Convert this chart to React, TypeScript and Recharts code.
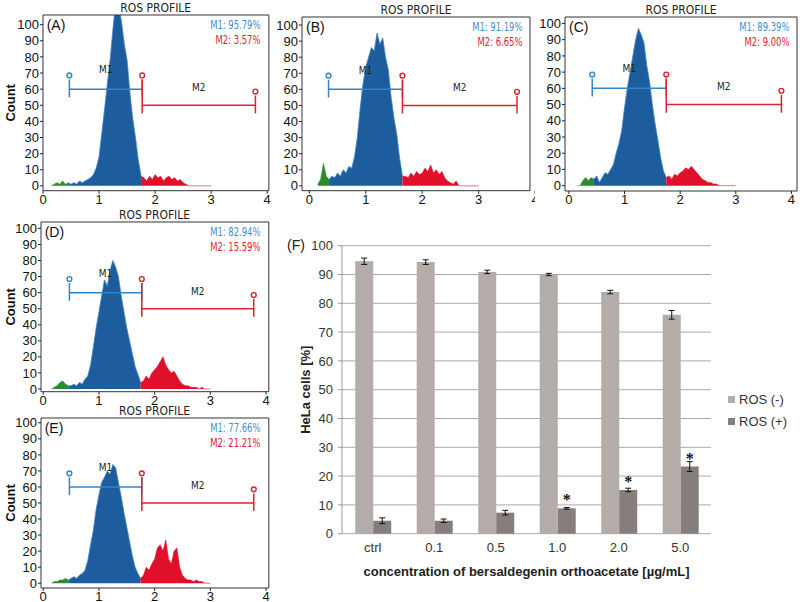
import React from "react";
import {
  ComposedChart,
  Area,
  XAxis,
  YAxis,
  ReferenceArea,
  ReferenceLine,
  ReferenceDot,
  BarChart,
  Bar,
  CartesianGrid,
  ErrorBar,
  LabelList,
  Legend,
} from "recharts";

// flow cytometry channels (log fluorescence, 0..4 scale)
const channels = [
  0.15, 0.2, 0.25, 0.3, 0.35, 0.4, 0.45, 0.5, 0.55, 0.6, 0.65, 0.7, 0.75, 0.8, 0.85, 0.9, 0.95, 1.0,
  1.05, 1.1, 1.15, 1.2, 1.25, 1.3, 1.35, 1.4, 1.45, 1.5, 1.55, 1.6, 1.65, 1.7, 1.75, 1.8, 1.85, 1.9,
  1.95, 2.0, 2.05, 2.1, 2.15, 2.2, 2.25, 2.3, 2.35, 2.4, 2.45, 2.5, 2.55, 2.6, 2.65, 2.7, 2.75, 2.8,
  2.85, 2.9, 2.95, 3.0,
];

const countsA = [
  0, 1, 2, 1, 3, 1, 2, 1, 2, 1, 3, 2, 3, 4, 5, 7, 11, 18, 33, 48, 64, 79, 98, 115, 112, 102, 88, 78,
  58, 42, 30, 16, 6, 5, 3, 6, 4, 7, 5, 6, 3, 5, 6, 4, 5, 3, 4, 2, 1, 0, 0, 0, 0, 0, 0, 0, 0, 0,
];
const countsB = [
  1, 4, 14, 6, 4, 6, 5, 8, 6, 10, 8, 12, 11, 18, 30, 48, 63, 74, 80, 86, 84, 95, 88, 92, 80, 72, 55,
  42, 32, 17, 6, 6, 5, 8, 6, 9, 7, 8, 11, 9, 13, 8, 10, 7, 9, 5, 3, 2, 1, 3, 0, 0, 0, 0, 0, 0, 0, 0,
];
const countsC = [
  0, 0, 3, 5, 3, 5, 4, 6, 2, 5, 8, 7, 10, 13, 20, 26, 34, 48, 60, 70, 80, 90, 97, 93, 88, 74, 64, 50,
  38, 28, 17, 9, 5, 6, 4, 7, 6, 8, 9, 11, 10, 12, 10, 8, 6, 4, 3, 2, 2, 1, 1, 0, 0, 0, 0, 0, 0, 0,
];
const countsD = [
  0, 1, 2, 4, 5, 3, 2, 2, 3, 2, 4, 3, 6, 8, 15, 26, 38, 48, 58, 68, 64, 74, 80, 76, 70, 58, 48, 38,
  30, 22, 14, 9, 4, 5, 8, 6, 10, 12, 14, 17, 20, 15, 12, 10, 11, 8, 5, 3, 2, 2, 1, 1, 1, 0, 1, 0, 0, 0,
];
const countsE = [
  0, 1, 1, 2, 2, 3, 2, 3, 4, 3, 5, 6, 8, 14, 24, 33, 46, 55, 63, 66, 70, 68, 74, 72, 63, 54, 44, 35,
  26, 17, 10, 6, 3, 5, 10, 8, 12, 15, 22, 24, 20, 27, 15, 12, 20, 22, 10, 5, 3, 2, 2, 1, 2, 1, 1, 0, 0, 0,
];

// gates: M1 start, M1/M2 split, M2 end
const gatesA = [0.47, 1.77, 3.79];
const gatesB = [0.34, 1.65, 3.68];
const gatesC = [0.42, 1.75, 3.82];
const gatesD = [0.47, 1.77, 3.78];
const gatesE = [0.47, 1.77, 3.78];

// channel where colour changes (green | blue | red)
const cutsA = [0.45, 1.75];
const cutsB = [0.35, 1.65];
const cutsC = [0.45, 1.75];
const cutsD = [0.45, 1.75];
const cutsE = [0.45, 1.75];

const statsA = ["95.79%", "3.57%"];
const statsB = ["91.19%", "6.65%"];
const statsC = ["89.39%", "9.00%"];
const statsD = ["82.94%", "15.59%"];
const statsE = ["77.66%", "21.21%"];

const xTicks = [0, 1, 2, 3, 4];
const countTicks = [0, 10, 20, 30, 40, 50, 60, 70, 80, 90, 100];

// panel F
const concLabels = ["ctrl", "0.1", "0.5", "1.0", "2.0", "5.0"];
const seriesNames = ["ROS (-)", "ROS (+)"];
const rosNeg = [94.6, 94.3, 90.9, 90.0, 83.9, 76.0];
const rosNegErr = [1.1, 0.8, 0.6, 0.4, 0.6, 1.5];
const rosPos = [4.5, 4.5, 7.3, 8.8, 15.2, 23.3];
const rosPosErr = [1.0, 0.6, 0.8, 0.3, 0.6, 1.7];
const significant = [false, false, false, true, true, true];
const percentTicks = [0, 10, 20, 30, 40, 50, 60, 70, 80, 90, 100];

const BLUE = "#1e5d9d";
const BLUE_EDGE = "#3f82c4";
const RED = "#e0102a";
const GREEN = "#2f8a2f";
const GATE_BLUE = "#2f84c8";
const GATE_RED = "#e0202e";
const NARROW = '"Liberation Sans Narrow", "DejaVu Sans Condensed", "Liberation Sans", Arial, sans-serif';
const SANS = '"Liberation Sans", Arial, sans-serif';

function buildRows(counts: number[], cuts: number[]) {
  return channels.map((x, i) => ({
    x,
    g: x <= cuts[0] ? counts[i] : null,
    b: x >= cuts[0] && x <= cuts[1] ? counts[i] : null,
    r: x >= cuts[1] ? counts[i] : null,
  }));
}

type Box = { l: number; r: number; t: number; b: number };

interface HistProps {
  box: Box;
  xDomain: [number, number];
  yDomain: [number, number];
  counts: number[];
  cuts: number[];
  gates: number[];
  stats: string[];
  tag: string;
  showCount: boolean;
}

function Histogram({ box, xDomain, yDomain, counts, cuts, gates, stats, tag, showCount }: HistProps) {
  const left = box.l - 45;
  const top = box.t - 16;
  const width = box.r - left + 5;
  const height = box.b - top + 18;
  const rows = buildRows(counts, cuts);
  const [g1, g2, g3] = gates;
  const plotL = box.l - left;
  const plotR = box.r - left;
  return (
    <div style={{ position: "absolute", left, top, width, height }}>
      <ComposedChart
        width={width}
        height={height}
        data={rows}
        margin={{ top: 16, right: 5, bottom: 2, left: 2 }}
      >
        <XAxis
          dataKey="x"
          type="number"
          domain={xDomain}
          ticks={xTicks}
          interval={0}
          allowDataOverflow
          axisLine={false}
          tickSize={3}
          tickMargin={1}
          height={16}
          stroke="#222"
          tick={{ fontSize: 13, fill: "#111", fontFamily: SANS }}
        />
        <YAxis
          type="number"
          domain={yDomain}
          ticks={countTicks}
          interval={0}
          allowDataOverflow
          axisLine={false}
          width={43}
          tickSize={3}
          tickMargin={1}
          stroke="#222"
          tick={{ fontSize: 13, fill: "#111", fontFamily: SANS }}
          label={
            showCount
              ? {
                  value: "Count",
                  angle: -90,
                  position: "insideLeft",
                  offset: 10 - left - 2,
                  style: { textAnchor: "middle", fontWeight: "bold", fontSize: 13, fill: "#111", fontFamily: SANS },
                }
              : undefined
          }
        />
        <Area dataKey="g" type="linear" stroke={GREEN} strokeWidth={0.6} fill={GREEN} fillOpacity={1} dot={false} activeDot={false} isAnimationActive={false} />
        <Area dataKey="b" type="linear" stroke={BLUE_EDGE} strokeWidth={0.8} fill={BLUE} fillOpacity={1} dot={false} activeDot={false} isAnimationActive={false} />
        <Area dataKey="r" type="linear" stroke={RED} strokeWidth={0.6} fill={RED} fillOpacity={1} dot={false} activeDot={false} isAnimationActive={false} />
        <ReferenceArea x1={xDomain[0]} x2={xDomain[1]} y1={yDomain[0]} y2={yDomain[1]} fill="none" stroke="#333" strokeWidth={1} ifOverflow="visible" />
        {/* M1 gate */}
        <ReferenceLine segment={[{ x: g1, y: 60 }, { x: g2, y: 60 }]} stroke={GATE_BLUE} strokeWidth={1.5} ifOverflow="visible" />
        <ReferenceLine segment={[{ x: g1, y: 55 }, { x: g1, y: 66 }]} stroke={GATE_BLUE} strokeWidth={1.5} ifOverflow="visible" />
        <ReferenceLine segment={[{ x: g2, y: 55 }, { x: g2, y: 66 }]} stroke={GATE_BLUE} strokeWidth={1.5} ifOverflow="visible" />
        <ReferenceDot x={g1} y={68.5} r={2.4} fill="#fff" stroke={GATE_BLUE} strokeWidth={1.4} ifOverflow="visible" />
        {/* M2 gate */}
        <ReferenceLine segment={[{ x: g2, y: 50 }, { x: g3, y: 50 }]} stroke={GATE_RED} strokeWidth={1.5} ifOverflow="visible" />
        <ReferenceLine segment={[{ x: g2, y: 45 }, { x: g2, y: 66 }]} stroke={GATE_RED} strokeWidth={1.5} ifOverflow="visible" />
        <ReferenceLine segment={[{ x: g3, y: 45 }, { x: g3, y: 56 }]} stroke={GATE_RED} strokeWidth={1.5} ifOverflow="visible" />
        <ReferenceDot x={g2} y={68.5} r={2.4} fill="#fff" stroke={GATE_RED} strokeWidth={1.4} ifOverflow="visible" />
        <ReferenceDot x={g3} y={58.5} r={2.4} fill="#fff" stroke={GATE_RED} strokeWidth={1.4} ifOverflow="visible" />
        <ReferenceDot
          x={(g1 + g2) / 2}
          y={72}
          r={0}
          fill="none"
          stroke="none"
          ifOverflow="visible"
          label={{ value: "M1", position: "center", fontSize: 10, fill: "#222", fontFamily: NARROW }}
        />
        <ReferenceDot
          x={(g2 + g3) / 2}
          y={61}
          r={0}
          fill="none"
          stroke="none"
          ifOverflow="visible"
          label={{ value: "M2", position: "center", fontSize: 10, fill: "#222", fontFamily: NARROW }}
        />
      </ComposedChart>
      <div
        style={{
          position: "absolute",
          left: plotL,
          width: plotR - plotL,
          top: 3,
          textAlign: "center",
          fontFamily: NARROW,
          fontSize: 12,
          lineHeight: "12px",
          color: "#222",
        }}
      >
        ROS PROFILE
      </div>
      <div style={{ position: "absolute", left: plotL + 4, top: 19, fontFamily: SANS, fontSize: 14, lineHeight: "14px", color: "#111" }}>
        {tag}
      </div>
      <div
        style={{
          position: "absolute",
          right: width - plotR + 8,
          top: 19,
          textAlign: "right",
          fontFamily: NARROW,
          fontSize: 12,
          lineHeight: "15px",
          transform: "scaleX(0.78)",
          transformOrigin: "right top",
          whiteSpace: "nowrap",
        }}
      >
        <div style={{ color: "#3d8fd2" }}>M1: {stats[0]}</div>
        <div style={{ color: GATE_RED }}>M2: {stats[1]}</div>
      </div>
    </div>
  );
}

const barRows = concLabels.map((conc, i) => ({
  conc,
  neg: rosNeg[i],
  negErr: rosNegErr[i],
  pos: rosPos[i],
  posErr: rosPosErr[i],
  star: significant[i] ? "*" : "",
}));

function renderLegend(props: any) {
  const items = [...(props.payload || [])].sort(
    (a: any, b: any) => seriesNames.indexOf(a.value) - seriesNames.indexOf(b.value)
  );
  return (
    <div>
      {items.map((item: any) => (
        <div
          key={item.value}
          style={{ display: "flex", alignItems: "center", height: 22, fontSize: 13, color: "#333", fontFamily: SANS }}
        >
          <span style={{ display: "inline-block", width: 7, height: 7, background: item.color, marginRight: 4 }} />
          {item.value}
        </div>
      ))}
    </div>
  );
}

function RosBars() {
  return (
    <div style={{ position: "absolute", left: 265, top: 220, width: 535, height: 382 }}>
      <BarChart
        width={535}
        height={382}
        data={barRows}
        margin={{ top: 25.7, right: 89, bottom: 38.3, left: 0 }}
        barCategoryGap="21.5%"
        barGap={0}
      >
        <CartesianGrid vertical={false} stroke="#a9a9a9" />
        <XAxis
          xAxisId="edge"
          type="number"
          domain={[0, 6]}
          ticks={[0, 1, 2, 3, 4, 5, 6]}
          interval={0}
          allowDataOverflow
          tickFormatter={() => ""}
          height={0}
          tickSize={5}
          stroke="#9a9a9a"
        />
        <XAxis
          dataKey="conc"
          axisLine={false}
          tickLine={false}
          tickSize={0}
          tickMargin={9}
          height={30}
          tick={{ fontSize: 13, fill: "#333", fontFamily: SANS }}
          label={{
            value: "concentration of bersaldegenin orthoacetate [µg/mL]",
            position: "bottom",
            offset: 3,
            style: { fontWeight: "bold", fontSize: 13, fill: "#222", fontFamily: SANS },
          }}
        />
        <YAxis
          domain={[0, 100]}
          ticks={percentTicks}
          interval={0}
          width={77}
          tickSize={4}
          tickMargin={5}
          stroke="#9a9a9a"
          tick={{ fontSize: 13, fill: "#333", fontFamily: SANS }}
          label={{
            value: "HeLa cells [%]",
            angle: -90,
            position: "insideLeft",
            offset: 40,
            style: { textAnchor: "middle", fontWeight: "bold", fontSize: 13, fill: "#222", fontFamily: SANS },
          }}
        />
        <Legend
          layout="vertical"
          align="center"
          verticalAlign="middle"
          wrapperStyle={{ left: 463, top: 168, width: 80 }}
          content={renderLegend}
        />
        <Bar dataKey="neg" name={seriesNames[0]} fill="#b4aca9" isAnimationActive={false}>
          <ErrorBar dataKey="negErr" width={3} stroke="#111" strokeWidth={1} direction="y" />
        </Bar>
        <Bar dataKey="pos" name={seriesNames[1]} fill="#867e7c" isAnimationActive={false}>
          <ErrorBar dataKey="posErr" width={3} stroke="#111" strokeWidth={1} direction="y" />
          <LabelList dataKey="star" position="top" offset={3} fontSize={16} fontWeight="bold" fill="#111" />
        </Bar>
      </BarChart>
    </div>
  );
}

export default function App() {
  return (
    <div
      style={{
        position: "absolute",
        left: 0,
        top: 0,
        width: 800,
        height: 602,
        overflow: "hidden",
        background: "#fff",
      }}
    >
      <Histogram box={{ l: 42.7, r: 268.6, t: 15, b: 190.7 }} xDomain={[0, 4.03]} yDomain={[-3, 106]} counts={countsA} cuts={cutsA} gates={gatesA} stats={statsA} tag="(A)" showCount />
      <Histogram box={{ l: 302, r: 530, t: 17, b: 190.7 }} xDomain={[-0.13, 3.91]} yDomain={[-3, 105]} counts={countsB} cuts={cutsB} gates={gatesB} stats={statsB} tag="(B)" showCount={false} />
      <Histogram box={{ l: 565, r: 797, t: 17, b: 191 }} xDomain={[-0.07, 4.1]} yDomain={[-3.3, 104]} counts={countsC} cuts={cutsC} gates={gatesC} stats={statsC} tag="(C)" showCount={false} />
      <Histogram box={{ l: 40.7, r: 268.5, t: 222, b: 391.7 }} xDomain={[-0.04, 4.05]} yDomain={[-1.7, 104]} counts={countsD} cuts={cutsD} gates={gatesD} stats={statsD} tag="(D)" showCount />
      <Histogram box={{ l: 40.7, r: 268.5, t: 418, b: 588 }} xDomain={[-0.04, 4.05]} yDomain={[-3, 103]} counts={countsE} cuts={cutsE} gates={gatesE} stats={statsE} tag="(E)" showCount />
      <RosBars />
      <div style={{ position: "absolute", left: 287, top: 237, fontFamily: SANS, fontSize: 14, lineHeight: "16px", color: "#222" }}>
        (F)
      </div>
    </div>
  );
}
